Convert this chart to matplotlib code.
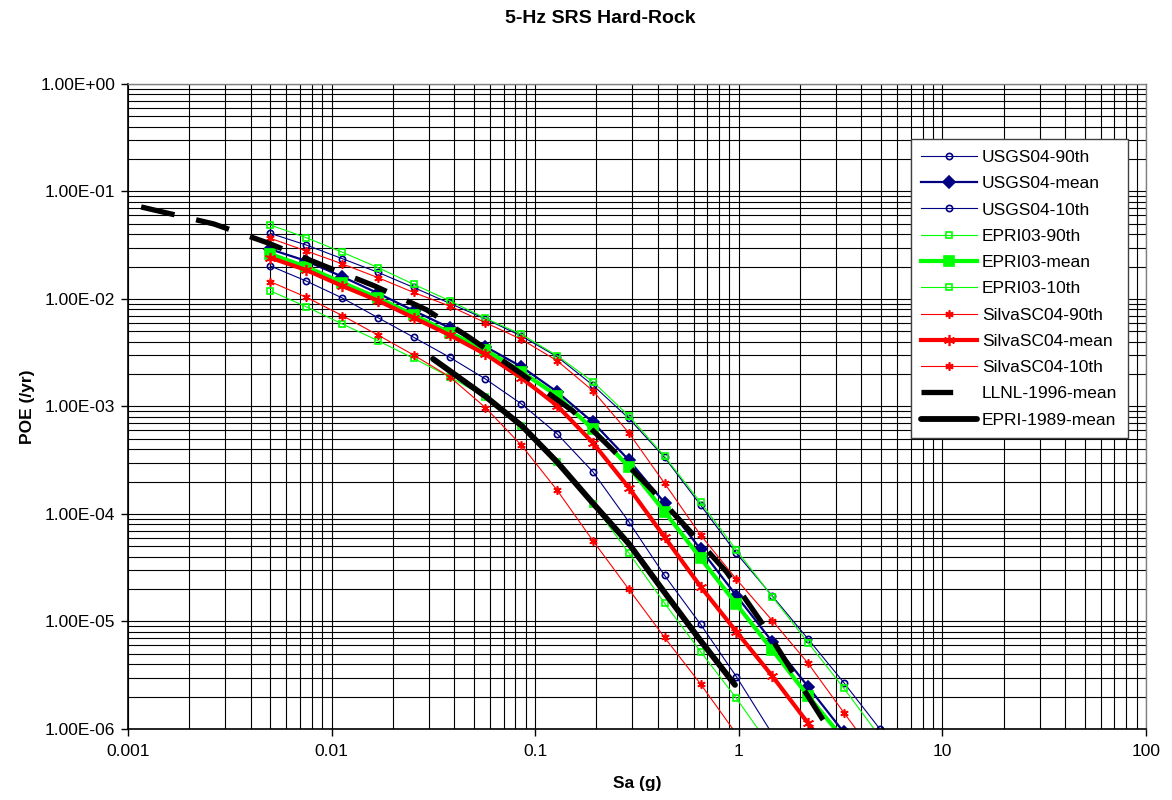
import matplotlib
matplotlib.use("Agg")
import matplotlib.pyplot as plt
from matplotlib.lines import Line2D
from matplotlib.ticker import FuncFormatter, LogLocator, NullFormatter

plt.rcParams['font.family'] = ['Liberation Sans', 'DejaVu Sans']

# spectral acceleration grid (g) used by the 2003/2004 hazard runs
SA = [0.005, 0.0075, 0.0113, 0.0169, 0.0253, 0.038, 0.057, 0.0854, 0.128,
      0.192, 0.288, 0.432, 0.649, 0.973, 1.46, 2.19, 3.28, 4.93]

USGS04_90 = [0.0408, 0.0318, 0.0237, 0.0177, 0.0128, 0.00912, 0.00652, 0.00453, 0.00291,
             0.00158, 0.000776, 0.000336, 0.000121, 4.31e-5, 1.73e-5, 6.87e-6, 2.70e-6, 1.0e-6]
USGS04_MEAN = [0.0290, 0.0226, 0.0161, 0.0113, 0.00778, 0.0054, 0.0036, 0.00235, 0.00137,
               0.000713, 0.000318, 0.000127, 4.7e-5, 1.74e-5, 6.48e-6, 2.47e-6, 9.3e-7]
USGS04_10 = [0.0203, 0.0147, 0.0102, 0.0067, 0.0044, 0.00287, 0.0018, 0.00106, 0.000558,
             0.000247, 8.48e-5, 2.68e-5, 9.42e-6, 3.07e-6, 9.0e-7]

EPRI03_90 = [0.0488, 0.0372, 0.0272, 0.0196, 0.0137, 0.00964, 0.00661, 0.0047, 0.00297,
             0.0017, 0.00082, 0.000343, 0.000128, 4.62e-5, 1.70e-5, 6.35e-6, 2.39e-6, 8.5e-7]
EPRI03_MEAN = [0.0262, 0.0199, 0.0142, 0.0102, 0.0071, 0.00486, 0.00335, 0.00211, 0.00126,
               0.000614, 0.000275, 0.000105, 3.88e-5, 1.45e-5, 5.43e-6, 2.03e-6, 8.0e-7]
EPRI03_10 = [0.0119, 0.00848, 0.00585, 0.00409, 0.0028, 0.00189, 0.00122, 0.000663, 0.000305,
             0.000123, 4.36e-5, 1.48e-5, 5.24e-6, 1.93e-6, 6.5e-7]

SILVA04_90 = [0.0367, 0.028, 0.0212, 0.0158, 0.0115, 0.0086, 0.00602, 0.00422, 0.00267,
              0.0014, 0.00057, 0.000193, 6.38e-5, 2.47e-5, 1.02e-5, 4.08e-6, 1.42e-6, 5.0e-7]
SILVA04_MEAN = [0.0242, 0.0186, 0.0132, 0.00965, 0.0067, 0.00462, 0.00306, 0.00185, 0.00102,
                0.00046, 0.000176, 6.1e-5, 2.11e-5, 8.04e-6, 3.11e-6, 1.13e-6, 4.0e-7]
SILVA04_10 = [0.0145, 0.0104, 0.0070, 0.00462, 0.00301, 0.00189, 0.000975, 0.000438, 0.000167,
              5.65e-5, 2.0e-5, 7.1e-6, 2.62e-6, 9.0e-7]

LLNL96_SA = [0.00116, 0.00264, 0.00487, 0.00898, 0.0163, 0.0294, 0.0479, 0.0861, 0.153,
             0.238, 0.375, 0.563, 0.872, 1.28, 1.80, 2.56, 2.97]
LLNL96_MEAN = [0.0718, 0.0499, 0.0332, 0.0207, 0.0132, 0.0079, 0.00434, 0.0020, 0.000908,
               0.000402, 0.000167, 7.25e-5, 2.88e-5, 1.01e-5, 3.61e-6, 1.26e-6, 8.3e-7]

EPRI89_SA = [0.0315, 0.0573, 0.0861, 0.128, 0.186, 0.289, 0.434, 0.645, 0.958]
EPRI89_MEAN = [0.00277, 0.00123, 0.000659, 0.000305, 0.000135, 5.26e-5, 1.84e-5, 6.73e-6, 2.57e-6]

X_TICKS = [0.001, 0.01, 0.1, 1, 10, 100]
Y_TICKS = [1e-6, 1e-5, 1e-4, 1e-3, 1e-2, 1e-1, 1]

NAVY = '#000080'
LIME = '#00FF00'
RED = '#FF0000'
STAR = (6, 2, 0)

fig = plt.figure(figsize=(11.72, 8.0), dpi=100)
ax = fig.add_axes([0.1092, 0.0888, 0.8686, 0.8062])

handles = []

def curve(y, label, color, lw, marker, ms, filled):
    x = SA[:len(y)]
    line, = ax.plot(x, y, color=color, lw=lw, marker=marker, ms=ms,
                    mfc=color if filled else 'none', mec=color, mew=1.2, label=label)
    handles.append(line)

curve(USGS04_90, 'USGS04-90th', NAVY, 0.8, 'o', 4.5, False)
curve(USGS04_MEAN, 'USGS04-mean', NAVY, 1.6, 'D', 6.5, True)
curve(USGS04_10, 'USGS04-10th', NAVY, 0.8, 'o', 4.5, False)
curve(EPRI03_90, 'EPRI03-90th', LIME, 0.8, 's', 5, False)
curve(EPRI03_MEAN, 'EPRI03-mean', LIME, 3.0, 's', 7, True)
curve(EPRI03_10, 'EPRI03-10th', LIME, 0.8, 's', 5, False)
curve(SILVA04_90, 'SilvaSC04-90th', RED, 0.8, STAR, 6, True)
curve(SILVA04_MEAN, 'SilvaSC04-mean', RED, 3.0, STAR, 8, True)
curve(SILVA04_10, 'SilvaSC04-10th', RED, 0.8, STAR, 6, True)

ax.plot(LLNL96_SA, LLNL96_MEAN, color='black', lw=3.8, dashes=(6.5, 4.2),
        dash_capstyle='butt')
# legend key shows a single dash only
handles.append(Line2D([], [], color='black', lw=3.8, dashes=(6.0, 20),
                      dash_capstyle='butt', label='LLNL-1996-mean'))
line89, = ax.plot(EPRI89_SA, EPRI89_MEAN, color='black', lw=4.2, solid_capstyle='round',
                  label='EPRI-1989-mean')
handles.append(line89)

ax.set_xscale('log')
ax.set_yscale('log')
ax.set_xticks(X_TICKS)
ax.set_yticks(Y_TICKS)
ax.set_xlim(0.001, 100)
ax.set_ylim(1e-6, 1)

# Excel-style major + minor gridlines on both axes
ax.xaxis.set_minor_locator(LogLocator(base=10, subs=range(2, 10), numticks=50))
ax.yaxis.set_minor_locator(LogLocator(base=10, subs=range(2, 10), numticks=50))
ax.xaxis.set_minor_formatter(NullFormatter())
ax.yaxis.set_minor_formatter(NullFormatter())
ax.grid(True, which='both', color='black', lw=0.8)
ax.set_axisbelow(True)

ax.xaxis.set_major_formatter(FuncFormatter(lambda v, p: f"{v:g}"))
ax.yaxis.set_major_formatter(FuncFormatter(lambda v, p: f"{v:.2E}"))
ax.tick_params(which='major', direction='out', length=5, width=1, labelsize=12.5)
ax.tick_params(axis='x', pad=6)
ax.tick_params(axis='y', pad=4)
ax.tick_params(which='minor', length=0)
for side in ('left', 'bottom'):
    ax.spines[side].set_color('black')
    ax.spines[side].set_linewidth(1.2)
for side in ('top', 'right'):
    ax.spines[side].set_color('#808080')
    ax.spines[side].set_linewidth(1.0)

ax.set_xlabel('Sa (g)', fontsize=12.5, fontweight='bold', labelpad=12)
ax.set_ylabel('POE (/yr)', fontsize=12.5, fontweight='bold', labelpad=4)
fig.text(0.512, 0.977, '5-Hz SRS Hard-Rock', ha='center', va='center',
         fontsize=14, fontweight='bold')

leg = ax.legend(handles=handles, loc='upper right', bbox_to_anchor=(0.982, 0.914),
                fontsize=12.5, handlelength=3.2, labelspacing=0.64, handletextpad=0.3,
                borderpad=0.6, borderaxespad=0, fancybox=False, framealpha=1)
leg.get_frame().set_edgecolor('#404040')
leg.get_frame().set_linewidth(1.0)

fig.savefig('out.png', dpi=100, facecolor='white')
